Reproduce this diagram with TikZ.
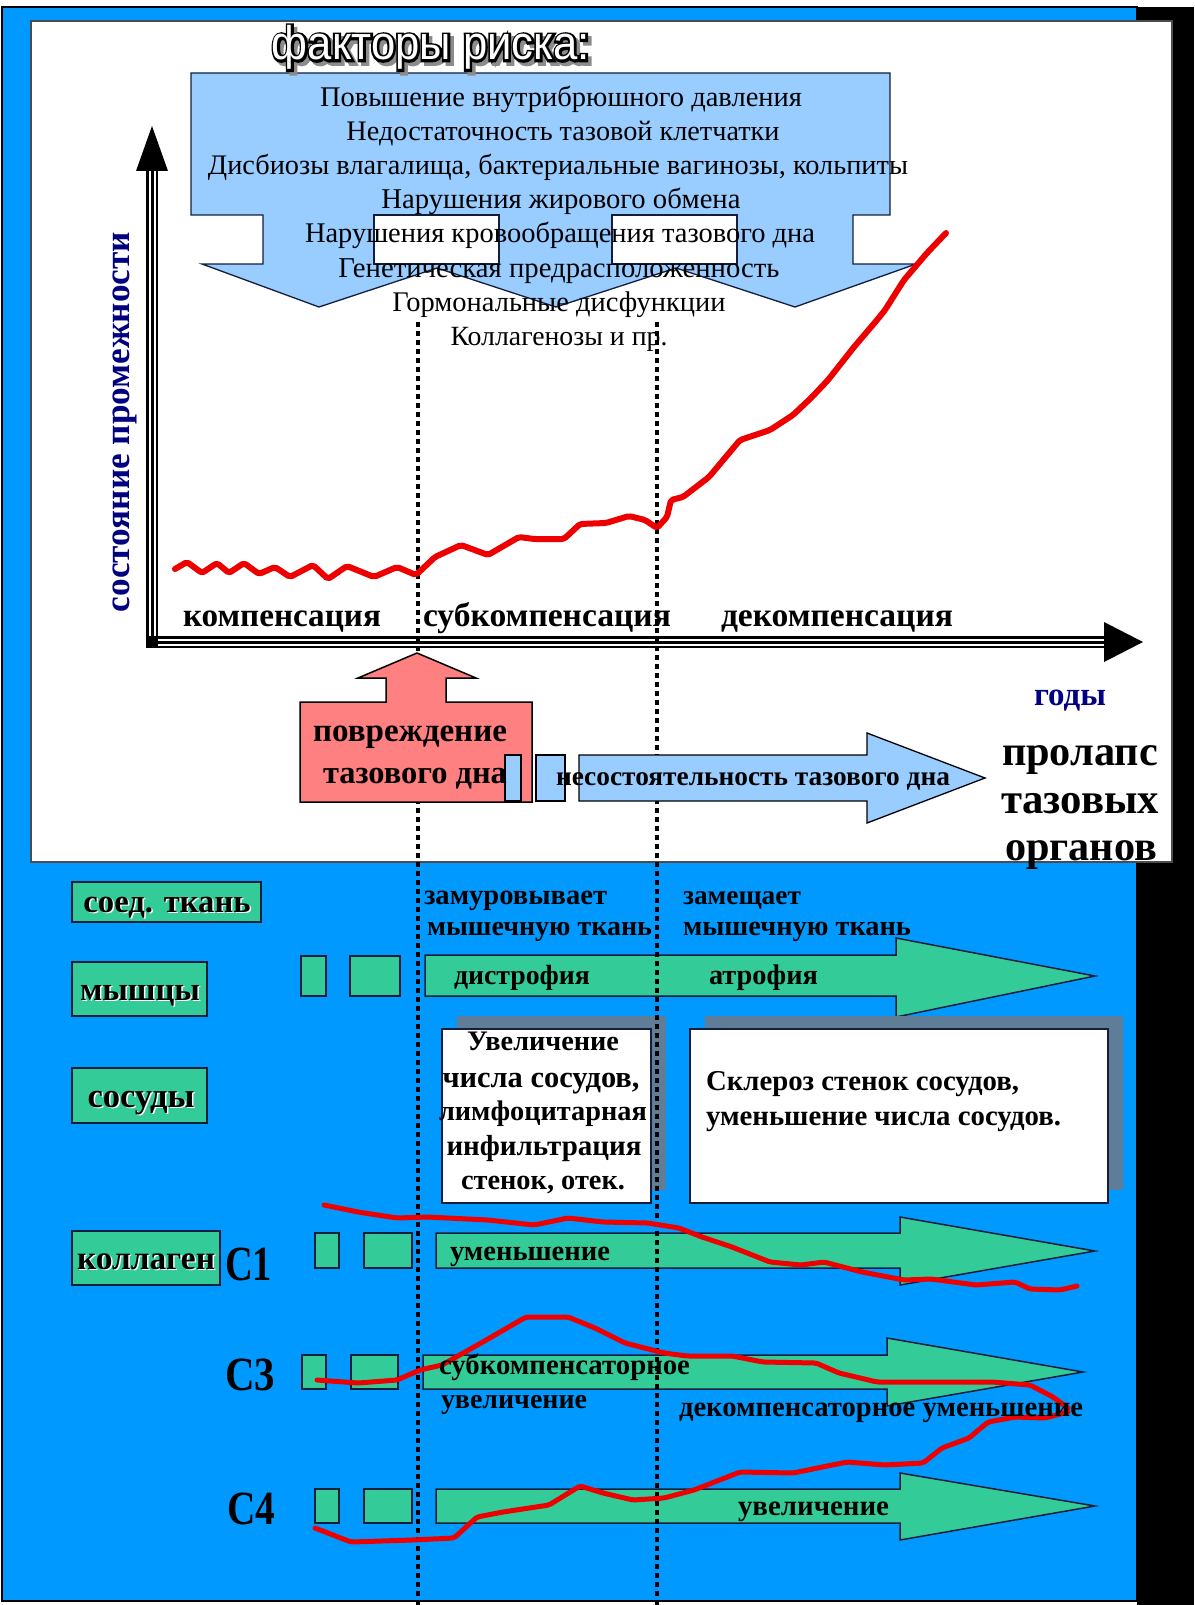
\documentclass[tikz,border=0pt]{standalone}
\usepackage{fontspec}
\setmainfont{Liberation Serif}
\newfontfamily\sansf{Liberation Sans}
\usepackage{graphicx}
\newcommand{\fitw}[2]{\resizebox{#1pt}{!}{#2}}
\newcommand{\fitwh}[3]{\resizebox*{#1pt}{#2pt}{#3}}
\newcommand{\ttltext}{\fitwh{318}{44}{\sansf факторы риска:}}
\newcommand{\strokeblk}{\special{pdf:literal direct 2 Tr 1.0 w 0 0 0 RG}}
\newcommand{\strokegry}{\special{pdf:literal direct 2 Tr 1.0 w 0.55 0.55 0.55 RG}}
\newcommand{\strokeoff}{\special{pdf:literal direct 0 Tr}}
\definecolor{bgblue}{RGB}{0,153,255}
\definecolor{lblue}{RGB}{153,204,255}
\definecolor{pinkc}{RGB}{255,128,128}
\definecolor{greenc}{RGB}{51,204,153}
\definecolor{curvered}{RGB}{238,0,0}
\definecolor{navyc}{RGB}{0,0,128}
\definecolor{shadowc}{RGB}{95,125,150}
\definecolor{edgec}{RGB}{20,30,60}
\begin{document}
\begin{tikzpicture}[x=1pt,y=-1pt,
  txt/.style={inner sep=0pt, outer sep=0pt},
  lbl/.style={txt, anchor=base, font=\bfseries\fontsize{32}{32}\selectfont},
  lblw/.style={txt, anchor=base west, font=\bfseries\fontsize{32}{32}\selectfont},
  lblsh/.style={lbl, text=white},
  fac/.style={txt, anchor=base, font=\fontsize{27}{27}\selectfont},
  gshape/.style={fill=greenc, draw=edgec, line width=1.5pt, line join=miter},
  bshape/.style={fill=lblue, draw=edgec, line width=1.3pt, line join=miter},
  wbox/.style={fill=white, draw=edgec, line width=1.3pt},
  shbox/.style={fill=shadowc},
  curve/.style={draw=curvered, line width=5pt, line join=round, line cap=round, rounded corners=2pt},
  dots/.style={draw=black, line width=4pt, dash pattern=on 4.5pt off 4.5pt},
  axisdbl/.style={line width=12pt, draw=black},
  axisw/.style={line width=7pt, draw=white},
  axisc/.style={line width=3pt, draw=black},
]
\useasboundingbox (0,0) rectangle (1194,1605);
% backgrounds
\fill[white] (0,0) rectangle (1194,1605);
\draw[fill=bgblue, draw=black, line width=1.5pt] (2,7) rectangle (1137,1601);
\fill[black] (1137,7) rectangle (1194,1605);
\draw[fill=white, draw=black!70, line width=2pt] (31,21) rectangle (1172,862);

% factors shape
\draw[bshape] (191,73) -- (890,73) -- (890,215) -- (853,215) -- (853,264) -- (916,264)
  -- (795,307) -- (676,268) -- (556,307) -- (437,268) -- (319,307) -- (202,264)
  -- (263,264) -- (263,215) -- (191,215) -- cycle;
\draw[wbox, line width=1.2pt] (374,215) rectangle (499,264);
\draw[wbox, line width=1.2pt] (612,215) rectangle (737,264);

% title (outlined with shadow)
\node[txt, anchor=base, text=black!45] (titlesh) at (434.5,63.5) {\strokegry\ttltext\strokeoff};
\node[txt, anchor=base] (titleol) at (431,60) {\strokeblk\ttltext\strokeoff};
\node[txt, anchor=base, text=white] (title) at (431,60) {\ttltext};

% factor lines
\node[fac] (f1) at (561,107) {\fitw{482}{Повышение внутрибрюшного давления}};
\node[fac] (f2) at (563,141) {\fitw{433}{Недостаточность тазовой клетчатки}};
\node[fac] (f3) at (558,175) {\fitw{700}{Дисбиозы влагалища, бактериальные вагинозы, кольпиты}};
\node[fac] (f4) at (561,209) {\fitw{359}{Нарушения жирового обмена}};
\node[fac] (f5) at (560,243) {\fitw{510}{Нарушения кровообращения тазового дна}};
\node[fac] (f6) at (559,277) {\fitw{441}{Генетическая предрасположенность}};
\node[fac] (f7) at (559,311) {\fitw{333}{Гормональные дисфункции}};
\node[fac] (f8) at (559,345) {\fitw{217}{Коллагенозы и пр.}};

% axes
\draw[axisdbl] (152,170) -- (152,648);
\draw[axisw] (152,170) -- (152,636);
\draw[axisc] (152,170) -- (152,642);
\fill[black] (152,126) -- (168,171) -- (136,171) -- cycle;
\draw[axisdbl] (146,642) -- (1106,642);
\draw[axisw] (158,642) -- (1106,642);
\draw[axisc] (152,642) -- (1106,642);
\fill[black] (1143,642) -- (1104,622) -- (1104,662) -- cycle;

% lower green boxes and arrows
\draw[gshape] (72,882) rectangle (261,922);
\draw[gshape] (72,962) rectangle (207,1016);
\draw[gshape] (72,1068) rectangle (207,1123);
\draw[gshape] (72,1231) rectangle (220,1285);

\draw[gshape] (301,956) rectangle (326,996);
\draw[gshape] (350,956) rectangle (400,996);
\draw[gshape] (425,955) -- (896,955) -- (896,938) -- (1095,976) -- (896,1017) -- (896,996) -- (425,996) -- cycle;

\draw[gshape] (315,1233) rectangle (339,1268);
\draw[gshape] (364,1233) rectangle (412,1268);
\draw[gshape] (436,1233) -- (900,1233) -- (900,1217) -- (1095,1251) -- (900,1285) -- (900,1268) -- (436,1268) -- cycle;

\draw[gshape] (302,1355) rectangle (326,1389);
\draw[gshape] (351,1355) rectangle (398,1389);
\draw[gshape] (423,1355) -- (887,1355) -- (887,1338) -- (1083,1372) -- (887,1406) -- (887,1389) -- (423,1389) -- cycle;

\draw[gshape] (315,1489) rectangle (339,1523);
\draw[gshape] (364,1489) rectangle (412,1523);
\draw[gshape] (436,1489) -- (900,1489) -- (900,1473) -- (1095,1506) -- (900,1540) -- (900,1523) -- (436,1523) -- cycle;

% white boxes with shadows
\fill[shbox] (457,1016) rectangle (666,1190);
\draw[wbox] (442,1029) rectangle (651,1203);
\fill[shbox] (705,1016) rectangle (1123,1190);
\draw[wbox] (690,1029) rectangle (1108,1203);

% dotted lines
\draw[dots] (418,322) -- (418,1605);
\draw[dots] (657,322) -- (657,1605);

% pink and blue shapes
\draw[fill=pinkc, draw=black, line width=1.5pt] (300,702) -- (386,702) -- (386,678) -- (358,678) -- (417,653)
  -- (476,678) -- (446,678) -- (446,702) -- (532,702) -- (532,802) -- (300,802) -- cycle;
\draw[bshape, draw=black] (505,755) rectangle (521,801);
\draw[bshape, draw=black] (536,755) rectangle (565,801);
\draw[bshape, draw=black] (579,755) -- (867,755) -- (867,733) -- (985,778) -- (867,823) -- (867,801) -- (579,801) -- cycle;

% red curves
\draw[curve, line width=6pt] (175,569) -- (187,562) -- (202,573) -- (217,563) -- (229,573) -- (244,563) -- (259,574)
 -- (275,567) -- (290,577) -- (313,565) -- (328,579) -- (347,566) -- (374,577) -- (397,567) -- (416,575)
 -- (435,557) -- (461,545) -- (488,555) -- (519,537) -- (534,539) -- (564,539) -- (580,524) -- (606,523)
 -- (629,516) -- (645,520) -- (657,528) -- (667,517) -- (671,500) -- (683,497) -- (709,477) -- (740,440)
 -- (770,430) -- (793,415) -- (812,397) -- (828,380) -- (854,347) -- (877,320) -- (885,310) -- (904,280)
 -- (927,253) -- (946,233);
\draw[curve] (324,1205) -- (358,1212) -- (397,1218) -- (427,1217) -- (488,1220) -- (534,1225) -- (568,1218)
 -- (603,1222) -- (648,1223) -- (679,1228) -- (702,1237) -- (732,1247) -- (770,1262) -- (801,1265)
 -- (824,1262) -- (862,1272) -- (904,1280) -- (931,1279) -- (976,1285) -- (1015,1282) -- (1030,1289)
 -- (1060,1290) -- (1077,1286);
\draw[curve] (317,1380) -- (358,1383) -- (397,1380) -- (420,1370) -- (442,1365) -- (481,1343) -- (526,1317)
 -- (568,1317) -- (595,1328) -- (625,1343) -- (664,1353) -- (687,1356) -- (732,1356) -- (763,1362)
 -- (816,1363) -- (839,1373) -- (877,1382) -- (938,1382) -- (992,1382) -- (1030,1385) -- (1053,1397)
 -- (1068,1408);
\draw[curve] (315,1528) -- (351,1542) -- (412,1540) -- (454,1538) -- (477,1517) -- (503,1512) -- (549,1505)
 -- (580,1486) -- (603,1493) -- (633,1500) -- (664,1498) -- (694,1490) -- (740,1472) -- (793,1473)
 -- (847,1462) -- (885,1465) -- (923,1463) -- (942,1448) -- (969,1438) -- (988,1422) -- (1015,1417)
 -- (1045,1418) -- (1068,1412);

% graph texts
\node[txt, rotate=90, anchor=base, text=navyc, font=\bfseries\fontsize{34}{34}\selectfont] (ylab) at (129,422) {\fitw{380}{состояние промежности}};
\node[lbl] (komp) at (282,626) {\fitw{198}{компенсация}};
\node[lbl] (subk) at (547,626) {\fitw{248}{субкомпенсация}};
\node[lbl] (dekomp) at (837,626) {\fitw{232}{декомпенсация}};
\node[lbl, text=navyc] (gody) at (1070,705) {\fitw{72}{годы}};
\node[lbl] (povr1) at (410,741) {\fitw{194}{повреждение}};
\node[lbl] (povr2) at (415,783) {\fitw{184}{тазового дна}};
\node[lbl] (nesost) at (753,785) {\fitw{394}{несостоятельность тазового дна}};
\node[lbl] (prol1) at (1080,765) {\fitw{156}{пролапс}};
\node[lbl] (prol2) at (1080,813) {\fitw{158}{тазовых}};
\node[lbl] (prol3) at (1081,860) {\fitw{152}{органов}};

% label boxes texts with light shadow
\node[lblsh] (soedsh) at (168.5,913.5) {\fitw{167}{соед. ткань}};
\node[lbl] (soed) at (167,912) {\fitw{167}{соед. ткань}};
\node[lblsh] (myshsh) at (141.5,1001.5) {\fitw{120}{мышцы}};
\node[lbl] (mysh) at (140,1000) {\fitw{120}{мышцы}};
\node[lblsh] (sosudsh) at (142.5,1108.5) {\fitw{107}{сосуды}};
\node[lbl] (sosud) at (141,1107) {\fitw{107}{сосуды}};
\node[lblsh] (kollsh) at (147.5,1270.5) {\fitw{138}{коллаген}};
\node[lbl] (koll) at (146,1269) {\fitw{138}{коллаген}};

\node[txt, anchor=base west, font=\bfseries\fontsize{40}{40}\selectfont] (c1) at (225,1280) {\fitwh{47}{33}{C1}};
\node[txt, anchor=base west, font=\bfseries\fontsize{40}{40}\selectfont] (c3) at (225,1390) {\fitwh{50}{32}{C3}};
\node[txt, anchor=base west, font=\bfseries\fontsize{40}{40}\selectfont] (c4) at (227,1524) {\fitwh{48}{32}{C4}};

\node[lblw] (zamur) at (424,904) {\fitw{183}{замуровывает}};
\node[lblw] (myshtk1) at (427,935) {\fitw{225}{мышечную ткань}};
\node[lblw] (zamesh) at (683,904) {\fitw{118}{замещает}};
\node[lblw] (myshtk2) at (683,935) {\fitw{228}{мышечную ткань}};
\node[lblw] (distr) at (454,984) {\fitw{136}{дистрофия}};
\node[lblw] (atr) at (709,984) {\fitw{109}{атрофия}};

\node[lbl] (b1l1) at (543,1050) {\fitw{152}{Увеличение}};
\node[lbl] (b1l2) at (541,1087) {\fitw{197}{числа сосудов,}};
\node[lbl] (b1l3) at (543,1120) {\fitw{208}{лимфоцитарная}};
\node[lbl] (b1l4) at (544,1155) {\fitw{195}{инфильтрация}};
\node[lbl] (b1l5) at (543,1189) {\fitw{164}{стенок, отек.}};
\node[lblw] (b2l1) at (706,1090) {\fitw{313}{Склероз стенок сосудов,}};
\node[lblw] (b2l2) at (706,1125) {\fitw{355}{уменьшение числа сосудов.}};

\node[lblw] (umen) at (450,1260) {\fitw{160}{уменьшение}};
\node[lblw] (subks) at (439,1374) {\fitw{251}{субкомпенсаторное}};
\node[lblw] (uvel1) at (441,1408) {\fitw{146}{увеличение}};
\node[lblw] (dekum) at (679,1416) {\fitw{404}{декомпенсаторное уменьшение}};
\node[lblw] (uvel2) at (738,1515) {\fitw{151}{увеличение}};
\end{tikzpicture}
\end{document}
